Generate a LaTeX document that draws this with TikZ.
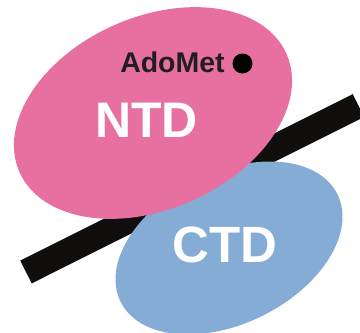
\documentclass[tikz,border=0pt]{standalone}
\usepackage{fontspec}
\setmainfont{Liberation Sans}
\definecolor{ntdpink}{RGB}{232,112,160}
\definecolor{ctdblue}{RGB}{133,172,212}
\definecolor{bandblack}{RGB}{17,14,14}
\definecolor{adotext}{RGB}{34,30,32}
\begin{document}
\begin{tikzpicture}[x=1pt,y=-1pt,
  label/.style={inner sep=0pt,outer sep=0pt,anchor=base,font=\bfseries},
  bigtext/.style={label,text=white,font=\bfseries\fontsize{50}{50}\selectfont}]
\useasboundingbox (0,0) rectangle (360,333);
\fill[white] (0,0) rectangle (360,333);
% membrane band
\coordinate (b1) at (26,272);
\coordinate (b2) at (358.5,105.5);
\draw[bandblack,line width=25.5pt] (b1) -- (b2);
% CTD ellipse
\fill[ctdblue,rotate around={26.4:(229,248)}] (229,248) ellipse [x radius=121, y radius=75.6];
% NTD ellipse
\fill[ntdpink,rotate around={23.9:(153,113)}] (153,113) ellipse [x radius=146, y radius=96];
% texts
\node[label,text=adotext,font=\bfseries\fontsize{28.5}{28.5}\selectfont] (ado) at (172.5,72) {AdoMet};
\fill[black] (242.5,63.5) circle (10);
\node[bigtext] (ntd) at (146.5,137) {NTD};
\node[bigtext,font=\bfseries\fontsize{51}{51}\selectfont] (ctd) at (225,262) {CTD};
\end{tikzpicture}
\end{document}
